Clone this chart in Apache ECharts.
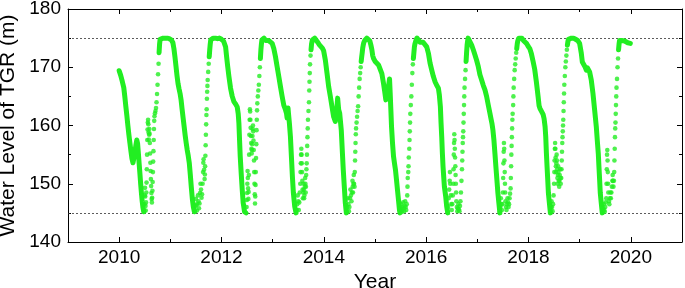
<!DOCTYPE html>
<html>
<head>
<meta charset="utf-8">
<script src="https://cdn.jsdelivr.net/npm/echarts@6.0.0/dist/echarts.min.js"></script>
<style>
html,body{margin:0;padding:0;background:#fff;}
#chart{width:685px;height:288px;}
</style>
</head>
<body>
<div id="chart"></div>
<script>
// x tick labels (years) and y ticks
const xTickYears = [2010, 2012, 2014, 2016, 2018, 2020];
const yTicks = [140, 150, 160, 170, 180];
const referenceLevels = [145, 175];

// continuous parts (plateau + drawdown), [decimal year, water level m]
const seg2010 = [[2010.0,169.4],[2010.03,168.6],[2010.06,167.6],[2010.09,166.5],[2010.11,165],[2010.13,163.3],[2010.15,161.7],[2010.17,160],[2010.19,158.4],[2010.21,157],[2010.23,155.6],[2010.25,154.3],[2010.27,153.6],[2010.29,154.5],[2010.31,155.6],[2010.33,156.8],[2010.345,157.5],[2010.36,156.9],[2010.375,155.3],[2010.39,153.5],[2010.405,151.8],[2010.42,150],[2010.435,148.4],[2010.45,147],[2010.465,145.9],[2010.48,145.2]];
const seg2011 = [[2010.78,172.5],[2010.79,174],[2010.80,174.8],[2010.82,175],[2010.86,175],[2010.90,175],[2010.94,175],[2010.98,174.9],[2011.02,174.7],[2011.05,174.2],[2011.07,173.2],[2011.09,171.8],[2011.11,170.2],[2011.13,168.6],[2011.15,167.2],[2011.17,166.3],[2011.19,165.5],[2011.21,164.4],[2011.23,162.8],[2011.25,161.3],[2011.27,159.8],[2011.29,158.3],[2011.31,157],[2011.33,155.8],[2011.35,154.8],[2011.37,153.6],[2011.39,151.6],[2011.41,149.4],[2011.43,147.4],[2011.45,146],[2011.47,145.2]];
const seg2012 = [[2011.76,171.8],[2011.77,173],[2011.78,174],[2011.79,174.7],[2011.80,175],[2011.84,175],[2011.88,175],[2011.92,174.9],[2011.96,175],[2012.00,174.8],[2012.04,174.5],[2012.08,173.5],[2012.10,171.8],[2012.12,170.2],[2012.145,168.4],[2012.177,166.4],[2012.21,165],[2012.242,164.1],[2012.275,163.7],[2012.307,163.2],[2012.327,162],[2012.34,160.4],[2012.353,157.5],[2012.366,154.7],[2012.385,151.8],[2012.405,149],[2012.424,146.7],[2012.45,145.2],[2012.48,145]];
const seg2013 = [[2012.76,171.5],[2012.77,173],[2012.78,174],[2012.79,174.7],[2012.80,175],[2012.83,175],[2012.86,174.6],[2012.89,174.8],[2012.92,174.6],[2012.95,174.3],[2012.99,174.1],[2013.022,173.2],[2013.055,171.8],[2013.087,170.1],[2013.12,168.4],[2013.152,166.7],[2013.185,165],[2013.217,163.5],[2013.25,162.7],[2013.27,162.1],[2013.282,161.3],[2013.29,162.5],[2013.30,163],[2013.31,162],[2013.327,160.4],[2013.347,158.1],[2013.366,154.7],[2013.386,151.2],[2013.405,148.4],[2013.431,146.1],[2013.457,145]];
const seg2014 = [[2013.75,173],[2013.76,174],[2013.775,174.7],[2013.79,175],[2013.82,175],[2013.85,174.8],[2013.88,174.3],[2013.91,173.9],[2013.94,173.6],[2013.97,173.3],[2013.997,172.8],[2014.03,171.2],[2014.062,169],[2014.094,166.7],[2014.127,165],[2014.16,163.2],[2014.192,161.5],[2014.224,160.7],[2014.244,161.5],[2014.26,163.5],[2014.27,164.7],[2014.29,162.7],[2014.31,162.1],[2014.322,161],[2014.341,159.2],[2014.36,155.8],[2014.38,152.4],[2014.40,149.5],[2014.42,146.7],[2014.44,145]];
const seg2015 = [[2014.73,171],[2014.74,171.8],[2014.75,172.5],[2014.76,173.3],[2014.77,173.8],[2014.78,174.2],[2014.80,174.6],[2014.82,174.9],[2014.84,175],[2014.87,175],[2014.90,174.5],[2014.92,173.8],[2014.939,173],[2014.955,172],[2014.972,171.5],[2015.004,171],[2015.037,170.7],[2015.069,170.4],[2015.102,170.1],[2015.134,168.9],[2015.167,167.2],[2015.19,165.8],[2015.212,164.4],[2015.232,164.6],[2015.25,165.8],[2015.264,166.7],[2015.284,168],[2015.297,165.5],[2015.31,162.7],[2015.323,159.8],[2015.342,157],[2015.362,154.7],[2015.381,153.5],[2015.40,152.4],[2015.42,150.7],[2015.44,148.9],[2015.459,147.2],[2015.478,145.5],[2015.49,145]];
const seg2016 = [[2015.75,171.5],[2015.76,172.5],[2015.77,173.5],[2015.78,174],[2015.80,174.6],[2015.82,175],[2015.85,174.8],[2015.88,174.3],[2015.91,174],[2015.94,174.3],[2015.979,174.4],[2016.011,173.5],[2016.044,172.4],[2016.076,170.7],[2016.109,169.5],[2016.141,168.4],[2016.174,167.5],[2016.206,166.9],[2016.239,166.4],[2016.258,165.2],[2016.278,163.2],[2016.291,160.4],[2016.304,158.1],[2016.317,155.2],[2016.33,152.9],[2016.343,151.2],[2016.356,149.5],[2016.382,147.8],[2016.401,146.1],[2016.421,145]];
const seg2017 = [[2016.78,171],[2016.79,172.5],[2016.80,173.8],[2016.81,174.5],[2016.82,175],[2016.84,175],[2016.856,174.7],[2016.889,173.8],[2016.921,173],[2016.954,172.1],[2016.986,171.2],[2017.019,170.1],[2017.051,168.7],[2017.084,167.8],[2017.116,166.9],[2017.149,166.1],[2017.181,165],[2017.214,163.5],[2017.246,162.1],[2017.266,161.2],[2017.285,160.4],[2017.305,159.2],[2017.324,157.5],[2017.344,155.2],[2017.363,152.9],[2017.382,150.7],[2017.402,148.4],[2017.421,146.7],[2017.441,145]];
const seg2018 = [[2017.77,173.2],[2017.78,174],[2017.79,174.5],[2017.80,174.8],[2017.81,175],[2017.84,175],[2017.87,175],[2017.90,174.6],[2017.93,174.3],[2017.96,174.1],[2017.993,173.6],[2018.025,173.2],[2018.057,172.3],[2018.09,171],[2018.122,169.6],[2018.155,167.4],[2018.187,165],[2018.207,163.4],[2018.226,162.9],[2018.252,162.7],[2018.285,161.9],[2018.304,161.2],[2018.324,159.8],[2018.337,158.1],[2018.35,155.2],[2018.363,152.9],[2018.376,150.7],[2018.389,148.4],[2018.408,146.7],[2018.428,145]];
const seg2019 = [[2018.76,173.8],[2018.77,174.4],[2018.78,174.8],[2018.80,175],[2018.84,175],[2018.88,175],[2018.92,174.8],[2018.96,174.6],[2018.999,174.1],[2019.032,172.4],[2019.052,170.9],[2019.078,170.7],[2019.104,170.1],[2019.13,169.5],[2019.15,169.9],[2019.162,169.8],[2019.195,169.2],[2019.227,167.8],[2019.26,165.5],[2019.292,162.7],[2019.325,159.8],[2019.344,157.5],[2019.364,155.2],[2019.377,152.9],[2019.39,150.7],[2019.403,148.4],[2019.422,146.7],[2019.442,145]];
const seg2020 = [[2019.76,173],[2019.77,174],[2019.78,174.6],[2019.80,174.8],[2019.82,174.6],[2019.85,174.4],[2019.88,174.5],[2019.91,174.3],[2019.94,174.2],[2019.97,174.0],[2019.99,174.1]];

// flood season and refill (scattered daily values)
const flood2010 = [[2010.49,145.3],[2010.495,146.5],[2010.50,148],[2010.505,149.3],[2010.51,147.8],[2010.515,146.2],[2010.52,145.4],[2010.525,146.8],[2010.53,148.5],[2010.535,150.2],[2010.54,152.5],[2010.545,155],[2010.55,157.5],[2010.555,159.3],[2010.56,160.5],[2010.565,161],[2010.57,160.2],[2010.575,158.8],[2010.58,157.6],[2010.585,158.4],[2010.59,159.4],[2010.595,158.6],[2010.60,157],[2010.605,155.2],[2010.61,153.6],[2010.615,152.2],[2010.62,150.8],[2010.625,149.6],[2010.63,148.4],[2010.635,147.4],[2010.64,146.8],[2010.645,147.6],[2010.65,148.8],[2010.655,150.3],[2010.66,152],[2010.665,153.8],[2010.67,155.6],[2010.675,157.5],[2010.68,159.4],[2010.685,160.8],[2010.69,161.6],[2010.70,162.1],[2010.71,162.5],[2010.72,163],[2010.73,164],[2010.74,165.4],[2010.75,167],[2010.76,168.8],[2010.77,170.6]];
const flood2011 = [[2011.48,145.3],[2011.49,146.2],[2011.50,147.4],[2011.51,146.3],[2011.52,145.4],[2011.53,146.6],[2011.54,148],[2011.55,147],[2011.56,145.8],[2011.57,146.6],[2011.58,148.4],[2011.59,150],[2011.60,149],[2011.61,147.6],[2011.62,148.2],[2011.63,150],[2011.64,152],[2011.645,153.6],[2011.65,154.2],[2011.66,152.4],[2011.67,150.8],[2011.675,151.6],[2011.68,153],[2011.685,154.8],[2011.69,156.6],[2011.695,158.4],[2011.70,160.2],[2011.705,161.8],[2011.71,162.8],[2011.715,164.6],[2011.72,165.8],[2011.725,166.8],[2011.73,167.8],[2011.74,169.2],[2011.75,170.6]];
const flood2012 = [[2012.49,146],[2012.495,147.2],[2012.50,148.4],[2012.505,150],[2012.51,152.2],[2012.515,151],[2012.52,149.2],[2012.525,147.4],[2012.53,148.6],[2012.535,151.5],[2012.54,155],[2012.545,158.4],[2012.55,161],[2012.555,162.8],[2012.56,162.4],[2012.565,161],[2012.57,159.6],[2012.575,158.2],[2012.58,157],[2012.585,156],[2012.59,155.2],[2012.595,155.8],[2012.60,156.8],[2012.605,158.2],[2012.61,159.4],[2012.615,160],[2012.62,159],[2012.625,157.4],[2012.63,155.8],[2012.635,154],[2012.64,152],[2012.645,150],[2012.65,148.2],[2012.655,146.6],[2012.66,147.8],[2012.665,149.8],[2012.67,152],[2012.675,154.4],[2012.68,156.8],[2012.685,159.2],[2012.69,161],[2012.695,162.6],[2012.70,163.8],[2012.71,165],[2012.72,166],[2012.73,167],[2012.74,168.5],[2012.75,170]];
const flood2013 = [[2013.47,145.5],[2013.48,146.5],[2013.49,148],[2013.50,147],[2013.51,145.5],[2013.52,146.8],[2013.53,148.5],[2013.54,150],[2013.545,152],[2013.55,153.5],[2013.555,155],[2013.56,156],[2013.565,155],[2013.57,153.5],[2013.575,152],[2013.58,150.5],[2013.585,149],[2013.59,147.5],[2013.60,148.5],[2013.605,150],[2013.61,149],[2013.615,147.5],[2013.62,148],[2013.63,149.5],[2013.635,151],[2013.64,150],[2013.645,148.5],[2013.65,149.5],[2013.655,151.5],[2013.66,152.5],[2013.665,153.5],[2013.67,155],[2013.675,156.5],[2013.68,158],[2013.685,159.5],[2013.69,161],[2013.70,162.5],[2013.71,164],[2013.715,166],[2013.72,167.5],[2013.725,169],[2013.73,170.5],[2013.74,172]];
const flood2014 = [[2014.45,145.2],[2014.46,146],[2014.47,147.5],[2014.48,146.5],[2014.49,145.3],[2014.50,146],[2014.51,147.5],[2014.52,149],[2014.53,148],[2014.54,147],[2014.55,148.5],[2014.56,150.5],[2014.565,149.5],[2014.57,148.5],[2014.58,150],[2014.585,151.5],[2014.59,150],[2014.60,149.5],[2014.605,152],[2014.61,154],[2014.615,155.5],[2014.62,157],[2014.625,158.5],[2014.63,159.5],[2014.64,160.5],[2014.65,161.5],[2014.66,162.5],[2014.67,163.3],[2014.68,165],[2014.69,166.5],[2014.70,168],[2014.71,169],[2014.72,170]];
const flood2015 = [[2015.49,145.2],[2015.50,145.8],[2015.51,146.5],[2015.52,145.5],[2015.53,145.2],[2015.54,146],[2015.55,146.8],[2015.56,145.8],[2015.57,145.3],[2015.58,146.2],[2015.59,147],[2015.60,146],[2015.61,145.5],[2015.62,146.5],[2015.63,148],[2015.635,149.5],[2015.64,151],[2015.65,152],[2015.655,153],[2015.66,154.5],[2015.67,156],[2015.675,157.5],[2015.68,159],[2015.685,160.5],[2015.69,162],[2015.70,163.5],[2015.71,165],[2015.72,167],[2015.73,169],[2015.74,170.5]];
const flood2016 = [[2016.42,145.2],[2016.43,146],[2016.44,147.5],[2016.45,149],[2016.46,150.5],[2016.465,152],[2016.47,150],[2016.48,148],[2016.49,146.5],[2016.50,145.5],[2016.51,146.5],[2016.52,148],[2016.53,150],[2016.535,152.5],[2016.54,155],[2016.545,157],[2016.55,158.5],[2016.555,157.5],[2016.56,156],[2016.565,154.5],[2016.57,153],[2016.575,151.5],[2016.58,150],[2016.585,148.5],[2016.59,147],[2016.60,146],[2016.61,145.3],[2016.62,145.8],[2016.63,146.5],[2016.64,145.6],[2016.65,145.3],[2016.66,146.2],[2016.67,147],[2016.68,148.5],[2016.69,150.5],[2016.70,152.5],[2016.705,154],[2016.71,155.5],[2016.715,157],[2016.72,158],[2016.725,159],[2016.73,160.5],[2016.735,162],[2016.74,163.5],[2016.745,165],[2016.75,166.5],[2016.76,168],[2016.77,169.5]];
const flood2017 = [[2017.44,145.2],[2017.45,146],[2017.46,147.5],[2017.47,146.5],[2017.48,145.5],[2017.49,146.5],[2017.50,148.5],[2017.505,151],[2017.51,153.5],[2017.515,155.5],[2017.52,157],[2017.525,156],[2017.53,154],[2017.535,152],[2017.54,150],[2017.545,148.5],[2017.55,147],[2017.56,146],[2017.57,145.5],[2017.58,146.5],[2017.59,147.5],[2017.60,146.8],[2017.61,146],[2017.62,146.5],[2017.63,147.5],[2017.64,148.3],[2017.65,149.2],[2017.655,151],[2017.66,153],[2017.665,155],[2017.67,156.5],[2017.675,158],[2017.68,159.5],[2017.685,161],[2017.69,162],[2017.70,163.5],[2017.705,165],[2017.71,166.5],[2017.72,168],[2017.73,169.5],[2017.74,170.5],[2017.75,171.5],[2017.76,172.5]];
const flood2018 = [[2018.43,145.2],[2018.44,146],[2018.45,147],[2018.46,146],[2018.47,145.3],[2018.48,146.5],[2018.49,148],[2018.50,150],[2018.505,152],[2018.51,154],[2018.515,156],[2018.52,157],[2018.525,156],[2018.53,154.5],[2018.535,153],[2018.54,152],[2018.545,153.5],[2018.55,155],[2018.555,154],[2018.56,152.5],[2018.565,151],[2018.57,150],[2018.575,151.5],[2018.58,153],[2018.585,152],[2018.59,150.5],[2018.60,149.5],[2018.605,150.5],[2018.61,151.5],[2018.62,152.5],[2018.625,151],[2018.63,150],[2018.64,151],[2018.645,152.5],[2018.65,154],[2018.655,155.5],[2018.66,157],[2018.665,158],[2018.67,159],[2018.675,160],[2018.68,161],[2018.685,162.5],[2018.69,164],[2018.695,165.5],[2018.70,167],[2018.71,168.5],[2018.72,170],[2018.73,171],[2018.74,172],[2018.75,173]];
const flood2019 = [[2019.45,145.2],[2019.46,145.8],[2019.47,146.5],[2019.48,145.5],[2019.49,145.2],[2019.50,146],[2019.51,146.8],[2019.52,147.5],[2019.525,150],[2019.53,152.5],[2019.535,155],[2019.54,155.8],[2019.545,154],[2019.55,152],[2019.555,150],[2019.56,148.5],[2019.57,147],[2019.58,146.5],[2019.59,147.5],[2019.60,148.5],[2019.61,147.5],[2019.62,148.5],[2019.63,149.5],[2019.64,150.5],[2019.645,151.5],[2019.65,150.5],[2019.66,149.5],[2019.67,150.5],[2019.675,152],[2019.68,154],[2019.685,156],[2019.69,158],[2019.695,159.5],[2019.70,160.5],[2019.705,162],[2019.71,163.5],[2019.715,165],[2019.72,166.5],[2019.73,168],[2019.74,170],[2019.75,171.5]];

const segments = [seg2010, seg2011, seg2012, seg2013, seg2014, seg2015, seg2016, seg2017, seg2018, seg2019, seg2020];
const floods = [flood2010, flood2011, flood2012, flood2013, flood2014, flood2015, flood2016, flood2017, flood2018, flood2019];

const GREEN = '#22ee22';
const FONT = 'Liberation Sans, Arial, sans-serif';

function xAxisBase(pos, showLine) {
  return {
    type: 'value', min: 2009, max: 2021, position: pos,
    axisLine: { show: showLine, onZero: false, lineStyle: { color: '#000', width: 1 } },
    splitLine: { show: false }
  };
}

const xAxes = [
  Object.assign(xAxisBase('bottom', true), {
    interval: 1,
    axisTick: { show: true, inside: true, length: 3, lineStyle: { color: '#000' } },
    axisLabel: { show: false }
  }),
  Object.assign(xAxisBase('bottom', false), {
    axisTick: { show: true, inside: true, length: 5, customValues: xTickYears, lineStyle: { color: '#000' } },
    axisLabel: { show: true, customValues: xTickYears, margin: 6, fontSize: 19, color: '#000', fontFamily: FONT, formatter: v => String(v) },
    name: 'Year', nameLocation: 'middle', nameGap: 23,
    nameTextStyle: { fontSize: 21, color: '#000', fontFamily: FONT }
  }),
  Object.assign(xAxisBase('top', true), {
    interval: 1,
    axisTick: { show: true, inside: true, length: 3, lineStyle: { color: '#000' } },
    axisLabel: { show: false }
  }),
  Object.assign(xAxisBase('top', false), {
    axisTick: { show: true, inside: true, length: 5, customValues: xTickYears, lineStyle: { color: '#000' } },
    axisLabel: { show: false }
  })
];

const yAxes = [
  {
    type: 'value', min: yTicks[0], max: yTicks[yTicks.length - 1], interval: 10, position: 'left',
    axisLine: { show: true, onZero: false, lineStyle: { color: '#000', width: 1 } },
    axisTick: { show: true, inside: true, length: 5, lineStyle: { color: '#000' } },
    minorTick: { show: true, splitNumber: 2, length: 3, lineStyle: { color: '#000' } },
    axisLabel: { margin: 7, fontSize: 19, color: '#000', fontFamily: FONT },
    splitLine: { show: false },
    name: 'Water Level of TGR (m)', nameLocation: 'middle', nameGap: 45,
    nameTextStyle: { fontSize: 21, color: '#000', fontFamily: FONT }
  },
  {
    type: 'value', min: yTicks[0], max: yTicks[yTicks.length - 1], interval: 10, position: 'right',
    axisLine: { show: true, onZero: false, lineStyle: { color: '#000', width: 1 } },
    axisTick: { show: true, inside: true, length: 5, lineStyle: { color: '#000' } },
    minorTick: { show: true, splitNumber: 2, length: 3, lineStyle: { color: '#000' } },
    axisLabel: { show: false },
    splitLine: { show: false }
  }
];

const series = [];
segments.forEach(seg => {
  series.push({
    type: 'line', data: seg, xAxisIndex: 0, yAxisIndex: 0,
    showSymbol: false, silent: true, smooth: false,
    lineStyle: { color: GREEN, width: 5, cap: 'round', join: 'round' },
    z: 3
  });
});
series.push({
  type: 'scatter', xAxisIndex: 0, yAxisIndex: 0,
  data: [].concat(...floods),
  symbol: 'circle', symbolSize: 4.6,
  itemStyle: { color: GREEN },
  silent: true, z: 3,
  markLine: {
    silent: true, symbol: ['none', 'none'], label: { show: false },
    lineStyle: { color: '#333', width: 0.8, type: [2, 2] },
    data: referenceLevels.map(v => ({ yAxis: v })),
    z: 1
  }
});

const chart = echarts.init(document.getElementById('chart'), null, { renderer: 'canvas' });
chart.setOption({
  animation: false,
  backgroundColor: '#fff',
  grid: { left: 68, right: 3, top: 9, bottom: 46, containLabel: false, outerBoundsMode: 'none' },
  xAxis: xAxes,
  yAxis: yAxes,
  series: series
});
</script>
</body>
</html>
